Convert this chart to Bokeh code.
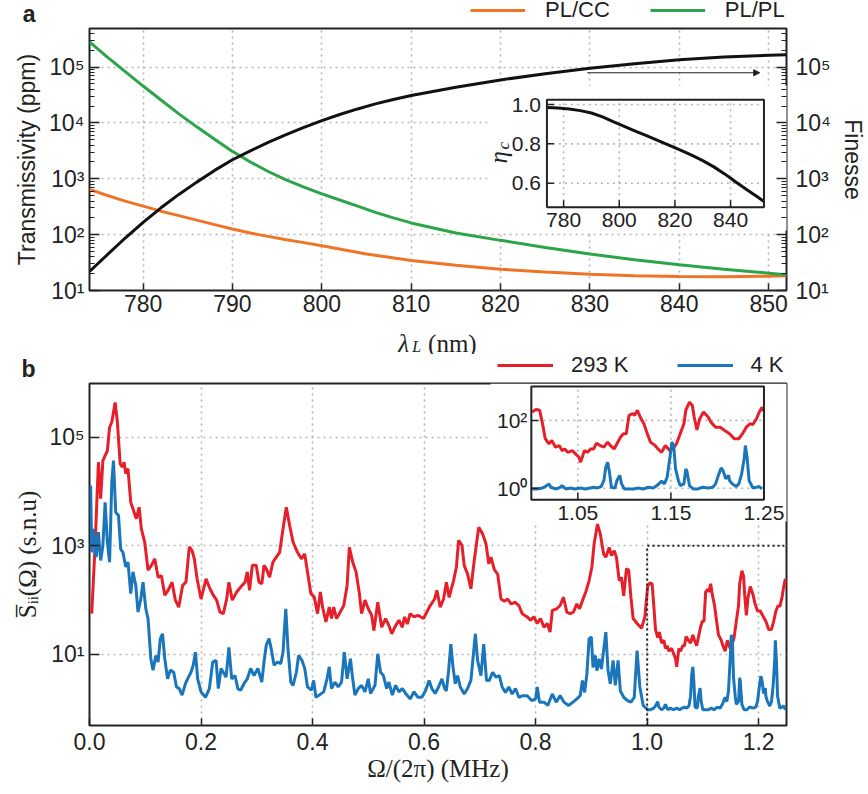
import json
import math
from bokeh.plotting import figure
from bokeh.layouts import column
from bokeh.models import (Range1d, LinearScale, LinearAxis, LogAxis, FixedTicker, CustomJSTickFormatter,
                          Legend, LegendItem, Label, BoxAnnotation, Arrow, NormalHead)
from bokeh.embed import file_html
from bokeh.resources import INLINE
from bokeh.core.properties import value

# ------------------------------------------------------------------ data, panel a
wl_plpl = [774, 776, 778, 780, 782, 784, 786, 788, 790, 792, 794, 796, 798, 800, 802, 804, 806, 808,
           810, 815, 820, 825, 830, 835, 840, 845, 850, 852]
T_plpl = [2.82e5, 1.51e5, 8.3e4, 4.57e4, 2.57e4, 1.45e4, 8.5e3, 5.1e3, 3.09e3, 2.0e3, 1.35e3, 955,
          708, 537, 417, 324, 251, 200, 162, 107, 79, 59, 45, 35.5, 28.8, 24, 20.4, 19.1]
wl_plcc = [774, 776, 778, 780, 782, 784, 786, 788, 790, 792, 794, 796, 798, 800, 805, 810, 815, 820,
           825, 830, 835, 840, 845, 850, 852]
T_plcc = [646, 501, 398, 324, 263, 219, 182, 151, 126, 107, 93, 81, 72, 63, 45.2, 34.3, 28.2, 24.0,
          21.4, 19.5, 18.4, 17.8, 17.6, 18.0, 18.4]
wl_fin = [774, 776, 778, 780, 782, 784, 786, 788, 790, 792, 794, 796, 798, 800, 802, 804, 806, 808,
          810, 815, 820, 825, 830, 835, 840, 845, 850, 852]
finesse = [21.9, 43.7, 87, 166, 302, 525, 871, 1413, 2188, 3162, 4467, 6166, 8318, 10965, 14125,
           17783, 21878, 26303, 30903, 43652, 58884, 75858, 95499, 114815, 134896, 151356, 162181,
           165959]
wl_eta = [774, 778, 782, 786, 790, 794, 798, 802, 806, 810, 814, 818, 822, 826, 830, 834, 838, 842,
          846, 850, 852]
eta_c = [0.985, 0.982, 0.977, 0.969, 0.957, 0.937, 0.912, 0.888, 0.864, 0.840, 0.816, 0.792, 0.768,
         0.743, 0.715, 0.683, 0.646, 0.605, 0.565, 0.527, 0.507]
a_xticks = [780, 790, 800, 810, 820, 830, 840, 850]
a_yexp = [1, 2, 3, 4, 5]
ia_xticks = [780, 800, 820, 840]
ia_yticks = [0.6, 0.8, 1.0]
legend_a = ["PL/CC", "PL/PL"]

# ------------------------------------------------------------------ data, panel b
f_293 = [
    0.004, 0.010, 0.016, 0.020, 0.024, 0.028, 0.032, 0.036, 0.040, 0.046,
    0.050, 0.055, 0.059, 0.062, 0.065, 0.069, 0.074, 0.080, 0.084, 0.089,
    0.093, 0.099, 0.105, 0.111, 0.117, 0.123, 0.129, 0.135, 0.141, 0.148,
    0.154, 0.160, 0.167, 0.173, 0.179, 0.184, 0.188, 0.193, 0.200, 0.209,
    0.216, 0.222, 0.228, 0.234, 0.240, 0.246, 0.250, 0.256, 0.264, 0.271,
    0.279, 0.283, 0.287, 0.292, 0.299, 0.304,
    0.309, 0.313, 0.317, 0.323, 0.329, 0.335, 0.341, 0.347, 0.353, 0.359,
    0.365, 0.373, 0.380, 0.386, 0.392, 0.397, 0.403, 0.409, 0.414, 0.418,
    0.424, 0.430, 0.434, 0.438, 0.443, 0.448, 0.456, 0.462, 0.466, 0.472,
    0.478, 0.484, 0.488, 0.494, 0.500, 0.506, 0.510, 0.517, 0.524, 0.531,
    0.537, 0.542, 0.549, 0.555, 0.561, 0.565, 0.570, 0.575, 0.582, 0.589,
    0.599, 0.605, 0.611, 0.619, 0.623, 0.629, 0.635,
    0.640, 0.645, 0.649, 0.653, 0.658, 0.662, 0.668, 0.672, 0.678, 0.684,
    0.690, 0.698, 0.705, 0.711, 0.716, 0.720, 0.726, 0.732, 0.738, 0.744,
    0.750, 0.756, 0.763, 0.770, 0.776, 0.785, 0.791, 0.797, 0.803, 0.809,
    0.815, 0.821, 0.826, 0.830, 0.838, 0.844, 0.850, 0.856, 0.862, 0.868,
    0.874, 0.879, 0.884, 0.890, 0.896, 0.901, 0.905, 0.911, 0.916, 0.922,
    0.926, 0.932, 0.936, 0.941, 0.945, 0.950, 0.954, 0.958, 0.963, 0.967,
    0.971, 0.975, 0.982, 0.990, 0.996,
    1.001, 1.005, 1.009, 1.012, 1.015, 1.019, 1.022, 1.026, 1.030, 1.033,
    1.036, 1.039, 1.044, 1.047, 1.051, 1.053, 1.057, 1.060, 1.064, 1.067,
    1.070, 1.074, 1.078, 1.082, 1.085, 1.089, 1.092, 1.096, 1.099, 1.102,
    1.105, 1.109, 1.111, 1.114, 1.117, 1.121, 1.124, 1.128, 1.133, 1.136,
    1.140, 1.144, 1.149, 1.152, 1.156, 1.160, 1.164, 1.166, 1.170, 1.173,
    1.175, 1.178, 1.181, 1.185, 1.190, 1.193, 1.198, 1.203, 1.207, 1.213,
    1.218, 1.223, 1.227, 1.231, 1.235, 1.238, 1.242, 1.245, 1.248, 1.249]
log10_S_293 = [
    1.75, 3.00, 4.54, 3.87, 4.57, 4.66, 4.75, 5.18, 5.28, 5.64,
    5.28, 4.51, 4.45, 4.54, 4.33, 4.42, 3.80, 3.62, 3.50, 3.71,
    3.31, 3.07, 2.55, 2.64, 2.76, 2.42, 2.45, 2.09, 2.18, 2.33,
    2.00, 1.87, 2.27, 2.33, 2.98, 2.91, 2.76, 2.39, 2.02, 2.39,
    2.21, 2.09, 2.00, 1.78, 1.75, 2.02, 2.33, 2.00, 2.15, 2.24,
    2.33, 2.52, 2.18, 2.64, 2.64, 2.33,
    2.30, 2.64, 2.58, 2.42, 2.70, 2.79, 2.88, 3.31, 3.71, 3.37,
    3.07, 2.88, 2.76, 2.85, 2.45, 2.12, 2.06, 1.75, 2.15, 1.87,
    1.60, 1.87, 1.66, 1.87, 1.66, 1.75, 1.90, 2.27, 2.97, 2.70,
    2.52, 2.12, 1.75, 2.00, 1.84, 1.72, 1.44, 1.96, 1.50, 1.66,
    1.53, 1.38, 1.53, 1.63, 1.50, 1.69, 1.56, 1.75, 1.69, 1.72,
    1.66, 1.78, 1.90, 2.02, 2.18, 1.87, 2.02,
    2.33, 2.05, 2.21, 2.36, 2.61, 3.10, 3.01, 2.64, 2.48, 2.21,
    2.73, 3.34, 3.22, 3.04, 2.67, 2.79, 2.56, 2.48, 2.02, 1.98,
    2.02, 1.93, 1.96, 1.90, 1.75, 1.69, 1.63, 1.69, 1.57, 1.66,
    1.50, 1.57, 1.41, 1.81, 1.84, 1.90, 2.05, 1.78, 1.75, 1.78,
    1.93, 1.84, 1.99, 2.15, 2.36, 2.61, 3.04, 3.40, 3.22, 2.85,
    2.79, 2.97, 2.82, 2.91, 2.79, 2.36, 2.42, 2.08, 2.58, 2.55,
    2.05, 1.66, 1.57, 1.48, 1.69,
    2.25, 2.32, 2.30, 1.90, 1.46, 1.31, 1.41, 1.21, 1.26, 1.11,
    1.16, 1.06, 1.11, 1.03, 0.92, 0.77, 1.11, 1.06, 1.16, 1.16,
    1.33, 1.26, 1.21, 1.36, 1.26, 1.16, 1.31, 1.51, 1.61, 1.61,
    2.15, 2.20, 2.15, 2.30, 2.10, 1.90, 1.66, 1.36, 1.26, 1.16,
    1.06, 1.26, 1.11, 1.16, 1.31, 1.61, 1.90, 2.30, 2.54, 2.44,
    2.10, 1.72, 2.05, 2.25, 2.10, 1.95, 1.80, 1.80, 1.72, 1.61,
    1.46, 1.46, 1.61, 1.80, 1.90, 1.88, 2.05, 2.25, 2.39, 2.27]
f_4 = [
    0.002, 0.004, 0.007, 0.012, 0.016, 0.020, 0.024, 0.028, 0.032, 0.036,
    0.040, 0.043, 0.047, 0.052, 0.056, 0.060, 0.065, 0.069, 0.074, 0.078,
    0.083, 0.087, 0.092, 0.096, 0.101, 0.105, 0.110, 0.114, 0.119, 0.123,
    0.127, 0.131, 0.135, 0.140, 0.145, 0.151, 0.156, 0.161, 0.166, 0.172,
    0.176, 0.182, 0.186, 0.190, 0.194, 0.200, 0.208, 0.215, 0.221, 0.227,
    0.231, 0.236, 0.240, 0.245, 0.250, 0.255, 0.261, 0.266, 0.271, 0.277,
    0.283, 0.289, 0.295, 0.302,
    0.309, 0.313, 0.317, 0.322, 0.326, 0.331, 0.337, 0.343, 0.347, 0.352,
    0.356, 0.361, 0.365, 0.371, 0.375, 0.381, 0.386, 0.391, 0.398, 0.402,
    0.406, 0.412, 0.420, 0.426, 0.430, 0.434, 0.440, 0.446, 0.452, 0.457,
    0.462, 0.468, 0.472, 0.476, 0.482, 0.488, 0.494, 0.500, 0.504, 0.512,
    0.517, 0.522, 0.527, 0.533, 0.537, 0.543, 0.549, 0.555, 0.561, 0.567,
    0.575, 0.582, 0.589, 0.596, 0.603, 0.609, 0.614, 0.620, 0.626, 0.632,
    0.637,
    0.640, 0.644, 0.648, 0.652, 0.656, 0.660, 0.665, 0.672, 0.678, 0.684,
    0.688, 0.692, 0.696, 0.702, 0.707, 0.712, 0.717, 0.723, 0.729, 0.735,
    0.740, 0.746, 0.752, 0.758, 0.764, 0.770, 0.777, 0.785, 0.793, 0.800,
    0.803, 0.807, 0.815, 0.822, 0.830, 0.837, 0.844, 0.851, 0.859, 0.867,
    0.874, 0.880, 0.884, 0.888, 0.892, 0.896, 0.900, 0.903, 0.907, 0.910,
    0.914, 0.918, 0.922, 0.926, 0.930, 0.934, 0.939, 0.943, 0.948, 0.952,
    0.958, 0.965, 0.971, 0.977, 0.982, 0.987, 0.993,
    1.001, 1.006, 1.012, 1.015, 1.019, 1.021, 1.026, 1.030, 1.033, 1.037,
    1.042, 1.047, 1.053, 1.058, 1.063, 1.067, 1.071, 1.075, 1.078, 1.080,
    1.082, 1.084, 1.086, 1.090, 1.092, 1.095, 1.097, 1.100, 1.104, 1.110,
    1.115, 1.120, 1.126, 1.131, 1.135, 1.140, 1.143, 1.146, 1.149, 1.151,
    1.153, 1.155, 1.158, 1.160, 1.164, 1.166, 1.167, 1.170, 1.174, 1.179,
    1.184, 1.190, 1.195, 1.198, 1.201, 1.204, 1.206, 1.209, 1.212, 1.213,
    1.216, 1.220, 1.223, 1.226, 1.229, 1.230, 1.232, 1.234, 1.238, 1.242,
    1.245, 1.248]
log10_S_4 = [
    4.11, 2.88, 3.31, 2.79, 3.25, 2.73, 3.00, 3.80, 3.07, 2.70,
    4.17, 4.57, 3.62, 3.56, 2.94, 2.88, 2.61, 2.70, 2.12, 2.52,
    2.27, 1.78, 2.02, 2.33, 1.84, 1.66, 0.92, 0.71, 0.98, 0.86,
    1.29, 1.38, 0.92, 0.55, 0.71, 0.67, 0.40, 0.37, 0.25, 0.46,
    0.55, 0.67, 0.80, 1.04, 0.55, 0.31, 0.21, 0.37, 0.86, 0.89,
    0.37, 0.74, 0.67, 0.58, 1.13, 0.55, 0.61, 0.37, 0.34, 0.46,
    0.55, 0.74, 0.61, 0.74,
    0.49, 0.86, 1.17, 1.29, 1.10, 0.80, 0.86, 0.83, 1.04, 1.84,
    1.10, 0.49, 0.43, 0.67, 0.98, 0.89, 0.74, 0.40, 0.34, 0.52,
    0.21, 0.25, 0.31, 0.55, 0.77, 0.37, 0.49, 0.40, 0.49, 1.04,
    0.55, 0.92, 0.55, 0.25, 0.37, 0.43, 0.31, 0.55, 0.28, 0.43,
    1.01, 0.67, 0.61, 0.37, 0.49, 0.25, 0.43, 0.31, 0.37, 0.28,
    0.18, 0.31, 0.21, 0.21, 0.34, 0.52, 0.37, 0.28, 0.40, 0.55,
    0.37,
    0.33, 0.70, 1.19, 0.76, 0.46, 0.61, 0.40, 0.27, 0.37, 0.52,
    0.95, 1.38, 0.89, 0.61, 1.19, 0.52, 0.52, 0.67, 0.58, 0.61,
    0.40, 0.30, 0.40, 0.27, 0.37, 0.21, 0.24, 0.24, 0.15, 0.18,
    0.40, 0.12, 0.12, 0.06, 0.27, 0.12, 0.24, 0.12, 0.06, 0.12,
    0.18, 0.24, 0.52, 0.30, 0.64, 1.29, 1.32, 0.76, 0.98, 0.70,
    0.92, 0.73, 1.07, 1.41, 0.70, 0.46, 0.89, 0.43, 0.89, 0.33,
    0.21, 0.15, 0.12, 0.21, 1.07, 0.40, 0.06,
    -0.02, -0.02, 0.01, 0.05, 0.13, 0.03, -0.02, 0.01, 0.08, -0.02,
    0.01, -0.02, 0.01, -0.02, 0.01, 0.03, 0.01, 0.05, 0.23, 0.62,
    0.77, 0.47, 0.03, 0.01, 0.23, 0.38, 0.13, -0.02, -0.02, -0.02,
    0.01, -0.02, 0.03, 0.01, 0.08, 0.21, 0.13, 0.33, 0.92, 1.36,
    1.26, 0.57, 0.23, 0.08, 0.13, 0.57, 0.52, 0.08, -0.02, -0.02,
    0.03, 0.01, 0.03, 0.13, 0.38, 0.60, 0.52, 0.28, 0.38, 0.23,
    0.13, 0.05, 0.13, 0.42, 0.92, 1.26, 0.87, 0.23, 0.01, 0.03,
    0.05, -0.02]
b_xticks = [0.0, 0.2, 0.4, 0.6, 0.8, 1.0, 1.2]
b_yexp = [1, 3, 5]
ib_xticks = [1.05, 1.15, 1.25]
ib_yexp = [0, 2]
legend_b = ["293 K", "4 K"]

S_293 = [10 ** v for v in log10_S_293]
S_4 = [10 ** v for v in log10_S_4]

# ------------------------------------------------------------------ style / layout constants
FONT = "Liberation Sans"
SERIF = "Liberation Serif"
INK = "#222222"
GRID = "#b4b4b4"
C_ORANGE, C_GREEN, C_BLACK = "#f07427", "#2ca44a", "#111111"
C_RED, C_BLUE = "#e6202a", "#1b75bb"

W = 868
BL, BR = 89, 77
FW = W - BL - BR
# vertical stacking (page px): strip A | panel a | strip M1 | strip M2 | panel b
SA_Y0, SA_H = 0, 26
PA_Y0, PA_H = 26, 294
M1_Y0, M1_H = 320, 34
M2_Y0, M2_H = 354, 28
PB_Y0, PB_H = 382, 412
A_TOP, A_BOT = 28, 290          # frame of panel a (page px)
B_TOP, B_BOT = 383, 725         # frame of panel b (page px)
A_X = (774, 852)
A_LOG = (1.0, 5.69)
B_X = (0.0, 1.25)
B_LOG = (-0.31, 5.99)
IA_BOX = (549.7, 768.3, 99.3, 206.7)   # inset a: left, right, top, bottom (page px)
IA_X, IA_Y = (774, 852), (0.478, 1.024)
IB_BOX = (534.0, 768.3, 386.0, 499.3)  # inset b
IB_X, IB_LOG = (1.0, 1.25), (-0.34, 3.0)
ZOOM_S_TOP = 1e3
TICK_IN = 7

SUP = {"0": "\u2070", "1": "\u00b9", "2": "\u00b2", "3": "\u00b3", "4": "\u2074", "5": "\u2075",
       "6": "\u2076", "7": "\u2077", "8": "\u2078", "9": "\u2079", "-": "\u207b"}


def pow10(e):
    return "10" + "".join(SUP[c] for c in str(e))


def sup_fmt():
    return CustomJSTickFormatter(code="const s = %s; const e = Math.round(Math.log10(tick)); "
                                      "return '10' + String(e).split('').map(c => s[c]).join('');"
                                      % json.dumps(SUP))


def style_axis(ax, major_in, minor_in, size="23px"):
    ax.axis_line_color = None
    ax.major_tick_in = major_in
    ax.major_tick_out = 0
    ax.minor_tick_in = minor_in
    ax.minor_tick_out = 0
    ax.major_tick_line_color = INK
    ax.major_tick_line_width = 1.5
    ax.minor_tick_line_color = INK
    ax.minor_tick_line_width = 1.2
    ax.major_label_text_font = FONT
    ax.major_label_text_font_size = size
    ax.major_label_text_color = INK
    ax.axis_label_text_font = FONT
    ax.axis_label_text_font_size = "23px"
    ax.axis_label_text_font_style = "normal"
    ax.axis_label_text_color = INK


def style_frame(p):
    p.outline_line_color = INK
    p.outline_line_width = 2
    p.outline_line_alpha = 1
    p.background_fill_color = "white"
    p.border_fill_color = "white"
    for g in (p.xgrid[0], p.ygrid[0]):
        g.grid_line_color = GRID
        g.grid_line_dash = "2 4"
        g.grid_line_width = 1.6


def extend(lo, hi, f0, f1):
    span = (hi - lo) / (f1 - f0)
    s = lo - f0 * span
    return s, s + span


def fx(px):
    return (px - BL) / FW


def fy(py, top, bot):
    return (bot - py) / (bot - top)


def txt(p, x, y, text, size="23px", font=FONT, style="normal", align="left",
        baseline="alphabetic", angle=0.0, units="data"):
    p.add_layout(Label(x=x, y=y, x_units=units, y_units=units, text=text,
                       text_font=font, text_font_size=size, text_font_style=style,
                       text_color=INK, text_align=align, text_baseline=baseline, angle=angle))


def strip(y0, h, letter=None):
    """Text strip whose data coordinates are page pixels (frame aligned with the panels)."""
    s = figure(width=W, height=h, x_range=Range1d(BL, W - BR), y_range=Range1d(y0 + h, y0),
               x_axis_type=None, y_axis_type=None, output_backend="svg", toolbar_location=None,
               min_border_left=BL, min_border_right=BR, min_border_top=0, min_border_bottom=0)
    s.outline_line_color = None
    s.background_fill_color = "white"
    s.border_fill_color = "white"
    if letter is not None:
        ax = LinearAxis(ticker=FixedTicker(ticks=[]), axis_label=letter,
                        axis_label_orientation="horizontal", axis_label_standoff=54,
                        axis_line_color=None, major_tick_line_color=None, minor_tick_line_color=None,
                        major_tick_in=0, major_tick_out=0, minor_tick_in=0, minor_tick_out=0,
                        major_label_standoff=0, axis_label_text_font=FONT,
                        axis_label_text_font_size="23px", axis_label_text_font_style="bold",
                        axis_label_text_color=INK)
        s.add_layout(ax, "left")
    return s


def legend_for(fig, labels, colors, data, x0, y_center, standoff, spacing, glyph_w):
    rs = [fig.line(xs, ys, line_color=c, line_width=3, visible=False) for (xs, ys), c in zip(data, colors)]
    h = 24
    frame_bottom = fig.y_range.start
    fig.add_layout(Legend(items=[LegendItem(label=l, renderers=[r]) for l, r in zip(labels, rs)],
                          location=(x0 - BL, frame_bottom - (y_center + h / 2)), orientation="horizontal",
                          glyph_width=glyph_w, glyph_height=h, label_height=h, label_standoff=standoff,
                          spacing=spacing, padding=0, margin=0, border_line_alpha=0,
                          background_fill_alpha=0, label_text_font=FONT, label_text_font_size="22px",
                          label_text_color=INK))


# ================================================================== strip A (letter a + legend a)
sa = strip(SA_Y0, SA_H, "a")
legend_for(sa, legend_a, [C_ORANGE, C_GREEN], [(wl_plcc, T_plcc), (wl_plpl, T_plpl)],
           470, 10.5, 20, 40, 55)

# ================================================================== panel a
pa = figure(width=W, height=PA_H, x_range=Range1d(*A_X), y_range=Range1d(10 ** A_LOG[0], 10 ** A_LOG[1]),
            y_axis_type="log", output_backend="svg", toolbar_location=None,
            min_border_left=BL, min_border_right=BR, min_border_top=A_TOP - PA_Y0,
            min_border_bottom=PA_Y0 + PA_H - A_BOT)
style_frame(pa)
a_major = [10 ** e for e in a_yexp]
a_minor = [m * 10 ** e for e in a_yexp for m in range(2, 10) if m * 10 ** e <= 10 ** A_LOG[1]]
tick_a = FixedTicker(ticks=a_major, minor_ticks=a_minor)
ax_l = pa.yaxis[0]
style_axis(ax_l, 10, 5)
ax_l.ticker = tick_a
ax_l.formatter = sup_fmt()
ax_l.axis_label = "Transmissivity (ppm)"
ax_l.major_label_standoff = 5
ax_l.axis_label_standoff = 6
pa.ygrid[0].ticker = tick_a
ax_r = LogAxis(ticker=tick_a, formatter=sup_fmt(), axis_label="Finesse")
style_axis(ax_r, 10, 5)
ax_r.major_label_standoff = 9
ax_r.axis_label_standoff = 6
pa.add_layout(ax_r, "right")
ax_b = pa.xaxis[0]
style_axis(ax_b, 7, 0)
tick_ax = FixedTicker(ticks=a_xticks, minor_ticks=[])
ax_b.ticker = tick_ax
ax_b.major_label_standoff = 4
pa.xgrid[0].ticker = tick_ax

pa.line(wl_plcc, T_plcc, line_color=C_ORANGE, line_width=3)
pa.line(wl_plpl, T_plpl, line_color=C_GREEN, line_width=3)
pa.line(wl_fin, finesse, line_color=C_BLACK, line_width=3)
pa.add_layout(Arrow(end=NormalHead(size=6, fill_color=INK, line_color=INK, line_width=1),
                    x_start=829.7, y_start=7.9e4, x_end=849.0, y_end=7.9e4,
                    line_color=INK, line_width=1.2))

# inset a (own ranges, mapped onto the inset rectangle of the frame)
il, ir, it, ib = IA_BOX
ixs, ixe = extend(IA_X[0], IA_X[1], fx(il), fx(ir))
iys, iye = extend(IA_Y[0], IA_Y[1], fy(ib, A_TOP, A_BOT), fy(it, A_TOP, A_BOT))
pa.extra_x_ranges = {"ix": Range1d(ixs, ixe)}
pa.extra_y_ranges = {"iy": Range1d(iys, iye)}
pa.extra_y_scales = {"iy": LinearScale()}
kia = dict(x_range_name="ix", y_range_name="iy")
ppx = (ir - il) / (IA_X[1] - IA_X[0])
ppy = (ib - it) / (IA_Y[1] - IA_Y[0])
pa.add_layout(BoxAnnotation(left=487 - BL, right=FW, top=A_BOT - 85, bottom=A_BOT - 230,
                            left_units="screen", right_units="screen", top_units="screen",
                            bottom_units="screen", fill_color="white", fill_alpha=1.0,
                            line_color=None, level="underlay"))
nx, ny = len(ia_xticks), len(ia_yticks)
pa.segment(x0=ia_xticks, x1=ia_xticks, y0=[IA_Y[0]] * nx, y1=[IA_Y[1]] * nx, line_color=GRID,
           line_dash="2 4", line_width=1.6, **kia)
pa.segment(x0=[IA_X[0]] * ny, x1=[IA_X[1]] * ny, y0=ia_yticks, y1=ia_yticks, line_color=GRID,
           line_dash="2 4", line_width=1.6, **kia)
pa.line(wl_eta, eta_c, line_color=C_BLACK, line_width=3, **kia)
pa.segment(x0=ia_xticks, x1=ia_xticks, y0=[IA_Y[0]] * nx, y1=[IA_Y[0] + TICK_IN / ppy] * nx,
           line_color=INK, line_width=1.5, **kia)
pa.segment(x0=[IA_X[0]] * ny, x1=[IA_X[0] + TICK_IN / ppx] * ny, y0=ia_yticks, y1=ia_yticks,
           line_color=INK, line_width=1.5, **kia)
pa.quad(left=[IA_X[0]], right=[IA_X[1]], bottom=[IA_Y[0]], top=[IA_Y[1]], fill_alpha=0,
        line_color=INK, line_width=2, **kia)
pa.text(x=ia_xticks, y=[IA_Y[0]] * nx, text=[str(t) for t in ia_xticks], y_offset=6,
        text_align="center", text_baseline="top", text_font=value(FONT), text_font_size="21px",
        text_color=INK, **kia)
pa.text(x=[IA_X[0]] * ny, y=ia_yticks, text=["%.1f" % t for t in ia_yticks], x_offset=-6,
        text_align="right", text_baseline="middle", text_font=value(FONT), text_font_size="21px",
        text_color=INK, **kia)
# rotated label eta_c (text runs upward from its anchor)
txt(pa, 498 - BL, A_BOT - 163, "\u03b7", size="25px", font=SERIF, style="italic", align="left",
    baseline="middle", angle=math.pi / 2, units="screen")
txt(pa, 503 - BL, A_BOT - 149, "c", size="17px", font=SERIF, style="italic", align="left",
    baseline="middle", angle=math.pi / 2, units="screen")

# ================================================================== strip M1 (x label of a)
m1 = strip(M1_Y0, M1_H)
txt(m1, 400, 342.5, "\u03bb", size="25px", font=SERIF, style="italic")
txt(m1, 414, 345.5, "L", size="16px", font=SERIF, style="italic")
txt(m1, 430, 342.5, "(nm)", size="25px", font=SERIF)

# ================================================================== strip M2 (letter b + legend b)
m2 = strip(M2_Y0, M2_H, "b")
legend_for(m2, legend_b, [C_RED, C_BLUE], [(f_293, S_293), (f_4, S_4)], 497, 366, 18, 48, 56)

# ================================================================== panel b
pb = figure(width=W, height=PB_H, x_range=Range1d(*B_X), y_range=Range1d(10 ** B_LOG[0], 10 ** B_LOG[1]),
            y_axis_type="log", output_backend="svg", toolbar_location=None,
            min_border_left=BL, min_border_right=BR, min_border_top=B_TOP - PB_Y0,
            min_border_bottom=PB_Y0 + PB_H - B_BOT)
style_frame(pb)
tick_b = FixedTicker(ticks=[10 ** e for e in b_yexp], minor_ticks=[])
bl_ax = pb.yaxis[0]
style_axis(bl_ax, 10, 0)
bl_ax.ticker = tick_b
bl_ax.formatter = sup_fmt()
bl_ax.axis_label = "S\u0305\u1d62\u1d62(\u03a9) (s.n.u)"
bl_ax.axis_label_text_font = SERIF
bl_ax.axis_label_text_font_size = "25px"
bl_ax.major_label_standoff = 5
bl_ax.axis_label_standoff = 5
pb.ygrid[0].ticker = tick_b
bb_ax = pb.xaxis[0]
style_axis(bb_ax, 7, 0)
tick_bx = FixedTicker(ticks=b_xticks, minor_ticks=[])
bb_ax.ticker = tick_bx
bb_ax.formatter = CustomJSTickFormatter(code="return tick.toFixed(1);")
bb_ax.axis_label = "\u03a9/(2\u03c0) (MHz)"
bb_ax.axis_label_text_font = SERIF
bb_ax.axis_label_text_font_size = "25px"
bb_ax.major_label_standoff = 7
bb_ax.axis_label_standoff = 2
pb.xgrid[0].ticker = tick_bx

pb.line(f_293, S_293, line_color=C_RED, line_width=3)
pb.line(f_4, S_4, line_color=C_BLUE, line_width=3)
pb.line([IB_X[0], IB_X[0], IB_X[1]], [10 ** B_LOG[0], ZOOM_S_TOP, ZOOM_S_TOP], line_color=INK,
        line_width=2, line_dash="2 3")

# inset b
jl, jr, jt, jb = IB_BOX
jxs, jxe = extend(IB_X[0], IB_X[1], fx(jl), fx(jr))
jys, jye = extend(IB_LOG[0], IB_LOG[1], fy(jb, B_TOP, B_BOT), fy(jt, B_TOP, B_BOT))
pb.extra_x_ranges = {"jx": Range1d(jxs, jxe)}
pb.extra_y_ranges = {"jy": Range1d(10 ** jys, 10 ** jye)}
kib = dict(x_range_name="jx", y_range_name="jy")
qpx = (jr - jl) / (IB_X[1] - IB_X[0])
qpd = (jb - jt) / (IB_LOG[1] - IB_LOG[0])
pb.add_layout(BoxAnnotation(left=490 - BL, right=FW, top=B_BOT - B_TOP, bottom=B_BOT - 521,
                            left_units="screen", right_units="screen", top_units="screen",
                            bottom_units="screen", fill_color="white", fill_alpha=1.0,
                            line_color=None, level="underlay"))
y_lo, y_hi = 10 ** IB_LOG[0], 10 ** IB_LOG[1]
ib_yvals = [10 ** e for e in ib_yexp]
mx, my = len(ib_xticks), len(ib_yvals)
pb.segment(x0=ib_xticks, x1=ib_xticks, y0=[y_lo] * mx, y1=[y_hi] * mx, line_color=GRID,
           line_dash="2 4", line_width=1.6, **kib)
pb.segment(x0=[IB_X[0]] * my, x1=[IB_X[1]] * my, y0=ib_yvals, y1=ib_yvals, line_color=GRID,
           line_dash="2 4", line_width=1.6, **kib)
sel293 = [i for i, f in enumerate(f_293) if IB_X[0] <= f <= IB_X[1]]
sel4 = [i for i, f in enumerate(f_4) if IB_X[0] <= f <= IB_X[1]]
pb.line([f_293[i] for i in sel293], [S_293[i] for i in sel293], line_color=C_RED, line_width=3, **kib)
pb.line([f_4[i] for i in sel4], [S_4[i] for i in sel4], line_color=C_BLUE, line_width=3, **kib)
pb.segment(x0=ib_xticks, x1=ib_xticks, y0=[y_lo] * mx,
           y1=[10 ** (IB_LOG[0] + TICK_IN / qpd)] * mx, line_color=INK, line_width=1.5, **kib)
pb.segment(x0=[IB_X[0]] * my, x1=[IB_X[0] + TICK_IN / qpx] * my, y0=ib_yvals, y1=ib_yvals,
           line_color=INK, line_width=1.5, **kib)
pb.quad(left=[IB_X[0]], right=[IB_X[1]], bottom=[y_lo], top=[y_hi], fill_alpha=0,
        line_color=INK, line_width=2, **kib)
pb.text(x=ib_xticks, y=[y_lo] * mx, text=["%.2f" % t for t in ib_xticks], y_offset=6,
        text_align="center", text_baseline="top", text_font=value(FONT), text_font_size="21px",
        text_color=INK, **kib)
pb.text(x=[IB_X[0]] * my, y=ib_yvals, text=[pow10(e) for e in ib_yexp], x_offset=-4,
        text_align="right", text_baseline="middle", text_font=value(FONT), text_font_size="21px",
        text_color=INK, **kib)

layout = column(sa, pa, m1, m2, pb)
with open("out.html", "w", encoding="utf-8") as fh:
    fh.write(file_html(layout, INLINE))
